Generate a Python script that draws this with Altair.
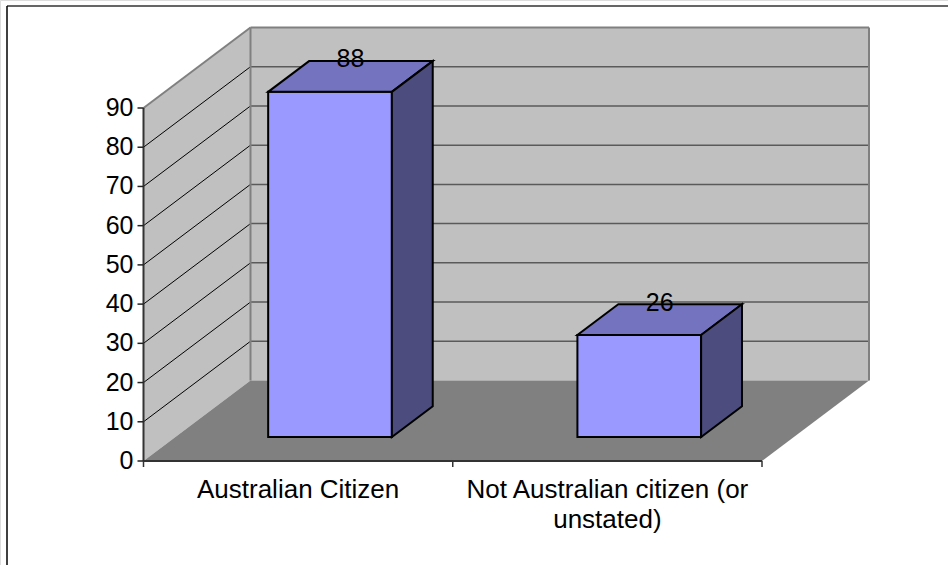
import altair as alt
import pandas as pd

# ---- data -------------------------------------------------------------
CATEGORIES = ["Australian Citizen", "Not Australian citizen (or\nunstated)"]
VALUES = [88, 26]
Y_TICKS = [0, 10, 20, 30, 40, 50, 60, 70, 80, 90]
Y_TOP = 90

# ---- layout (pixels) --------------------------------------------------
W, H = 948, 565
ORIGIN_X, ORIGIN_Y = 143.5, 461.0      # front-left corner of the floor
PX_PER_CAT = 309.25                    # width of one category band
PX_PER_UNIT = 353.0 / 90.0             # vertical pixels per value unit

# 3-D depth projection (in data units for one full depth of the box)
DX = 107.0 / PX_PER_CAT
DY = 80.5 / PX_PER_UNIT
BAR_FRAC = 0.4                         # bar width as share of a band
Z_FRONT, Z_BACK = 0.298, 0.68          # bar depth span inside the box
N = len(CATEGORIES)
TICK_LEN = 6                           # tick length in pixels

X_DOMAIN = [-ORIGIN_X / PX_PER_CAT, (W - ORIGIN_X) / PX_PER_CAT]
Y_DOMAIN = [-(H - ORIGIN_Y) / PX_PER_UNIT, ORIGIN_Y / PX_PER_UNIT]

FONT = "Liberation Sans"
xs = alt.Scale(domain=X_DOMAIN, nice=False, zero=False)
ys = alt.Scale(domain=Y_DOMAIN, nice=False, zero=False)


def X(f):
    return alt.X(f, type="quantitative", scale=xs, axis=None)


def Y(f):
    return alt.Y(f, type="quantitative", scale=ys, axis=None)


def segs(rows):
    return pd.DataFrame(rows, columns=["x", "y", "x2", "y2"])


def seg_layer(rows, **style):
    return alt.Chart(segs(rows)).mark_rule(**style).encode(
        x=X("x"), y=Y("y"), x2="x2", y2="y2"
    )


# ---- walls and floor --------------------------------------------------
back_wall_df = pd.DataFrame({"x": [DX], "x2": [N + DX], "y": [DY], "y2": [Y_TOP + DY]})
side_wall_df = pd.DataFrame({"x": [0, DX], "y": [Y_TOP, Y_TOP + DY], "y2": [0, DY]})
floor_df = pd.DataFrame({"y": [0, DY], "x": [0, DX], "x2": [N, N + DX]})

back_wall = alt.Chart(back_wall_df).mark_rect(color="#C0C0C0").encode(
    x=X("x"), x2="x2", y=Y("y"), y2="y2"
)
side_wall = alt.Chart(side_wall_df).mark_area(color="#C0C0C0").encode(
    x=X("x"), y=Y("y"), y2="y2"
)
floor = alt.Chart(floor_df).mark_area(color="#808080", orient="horizontal").encode(
    y=Y("y"), x=X("x"), x2="x2"
)

back_grid = seg_layer([(DX, v + DY, N + DX, v + DY) for v in Y_TICKS[1:-1]],
                      color="#5A5A5A", strokeWidth=1.5)
side_grid = seg_layer([(0, v, DX, v + DY) for v in Y_TICKS[1:-1]],
                      color="black", strokeWidth=1)
wall_edges = seg_layer([
    (0, Y_TOP, DX, Y_TOP + DY),
    (DX, Y_TOP + DY, N + DX, Y_TOP + DY),
    (N + DX, DY, N + DX, Y_TOP + DY),
    (DX, DY, DX, Y_TOP + DY),
], color="#808080", strokeWidth=2)
front_edges = seg_layer([(0, 0, 0, Y_TOP), (0, 0, N, 0)], color="#333333", strokeWidth=2)

# ---- axis ticks and labels --------------------------------------------
tick_u = TICK_LEN / PX_PER_CAT
tick_v = TICK_LEN / PX_PER_UNIT
y_ticks = seg_layer([(-tick_u, v, 0, v) for v in Y_TICKS], color="#222222", strokeWidth=1.5)
x_ticks = seg_layer([(i, 0, i, -tick_v) for i in range(N + 1)], color="#333333", strokeWidth=1.5)

y_labels = alt.Chart(pd.DataFrame({"v": Y_TICKS, "u": 0})).mark_text(
    font=FONT, fontSize=25, color="black", align="right", baseline="middle",
    dx=-(TICK_LEN + 4),
).encode(x=X("u"), y=Y("v"), text="v:Q")

x_labels = alt.Chart(pd.DataFrame({
    "label": CATEGORIES, "u": [i + 0.5 for i in range(N)], "v": 0,
})).mark_text(
    font=FONT, fontSize=26, color="black", align="center", baseline="top",
    lineBreak="\n", lineHeight=30, dy=16,
).encode(x=X("u"), y=Y("v"), text="label:N")

# ---- 3-D bars ---------------------------------------------------------
front_rows, top_rows, side_rows, label_rows = [], [], [], []
for i, v in enumerate(VALUES):
    u0 = i + 0.5 - BAR_FRAC / 2
    u1 = i + 0.5 + BAR_FRAC / 2
    front_rows.append({"bar": i, "x": u0 + Z_FRONT * DX, "x2": u1 + Z_FRONT * DX,
                       "y": Z_FRONT * DY, "y2": v + Z_FRONT * DY})
    for z in (Z_FRONT, Z_BACK):
        top_rows.append({"bar": i, "y": v + z * DY, "x": u0 + z * DX, "x2": u1 + z * DX})
        side_rows.append({"bar": i, "x": u1 + z * DX, "y": v + z * DY, "y2": z * DY})
    zm = (Z_FRONT + Z_BACK) / 2
    label_rows.append({"x": i + 0.5 + zm * DX, "y": v + zm * DY, "value": v})

outline = dict(stroke="black", strokeWidth=2, strokeJoin="miter")
bar_front = alt.Chart(pd.DataFrame(front_rows)).mark_rect(color="#9999FF", **outline).encode(
    x=X("x"), x2="x2", y=Y("y"), y2="y2"
)
bar_top = alt.Chart(pd.DataFrame(top_rows)).mark_area(
    color="#7373BF", orient="horizontal", **outline
).encode(y=Y("y"), x=X("x"), x2="x2", detail="bar:N")
bar_side = alt.Chart(pd.DataFrame(side_rows)).mark_area(color="#4C4C7F", **outline).encode(
    x=X("x"), y=Y("y"), y2="y2", detail="bar:N"
)
bar_labels = alt.Chart(pd.DataFrame(label_rows)).mark_text(
    font=FONT, fontSize=25, color="black", baseline="middle", dy=-17
).encode(x=X("x"), y=Y("y"), text="value:Q")

# ---- outer frame --------------------------------------------------------
frame_top = alt.Chart(pd.DataFrame({"k": [0]})).mark_rule(color="#333333", strokeWidth=1.5).encode(
    x=alt.value(7), x2=alt.value(W), y=alt.value(6)
)
frame_left = alt.Chart(pd.DataFrame({"k": [0]})).mark_rule(color="black", strokeWidth=1.5).encode(
    x=alt.value(7), y=alt.value(6), y2=alt.value(H)
)

chart = alt.layer(
    back_wall, side_wall, floor, back_grid, side_grid, wall_edges, front_edges,
    y_ticks, x_ticks, y_labels, x_labels,
    bar_front, bar_top, bar_side, bar_labels, frame_top, frame_left,
).properties(
    width=W, height=H, padding=0,
    autosize=alt.AutoSizeParams(type="none"),
).configure_view(stroke=None).configure(background="white")

chart.save("out.html", embed_options={"renderer": "svg", "actions": False})
